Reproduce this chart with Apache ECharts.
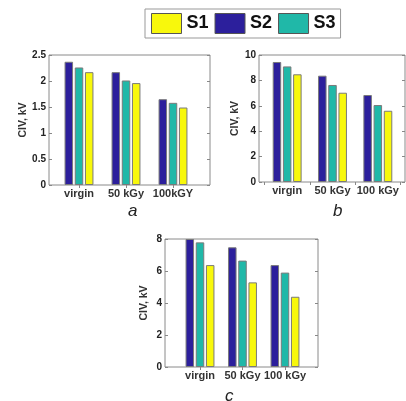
<!DOCTYPE html>
<html><head><meta charset="utf-8">
<script src="https://cdn.jsdelivr.net/npm/echarts@6/dist/echarts.min.js"></script>
<style>html,body{margin:0;padding:0;background:#fff}#c{width:406px;height:401px}</style>
</head><body><div id="c"></div>
<script>
// Data
const catsA = ['virgin', '50 kGy', '100kGY'];
const catsB = ['virgin', '50 kGy', '100 kGy'];
const catsC = ['virgin', '50 kGy', '100 kGy'];
const a_S1 = [2.17, 1.96, 1.49];
const a_S2 = [2.37, 2.17, 1.65];
const a_S3 = [2.26, 2.01, 1.58];
const b_S1 = [8.48, 7.03, 5.61];
const b_S2 = [9.45, 8.37, 6.85];
const b_S3 = [9.10, 7.64, 6.06];
const c_S1 = [6.37, 5.29, 4.39];
const c_S2 = [8.00, 7.48, 6.37];
const c_S3 = [7.79, 6.65, 5.90];
const yA = {min: 0, max: 2.5, interval: 0.5};
const yB = {min: 0, max: 10, interval: 2};
const yC = {min: 0, max: 8, interval: 2};

const COL = {S1: '#f8f80c', S2: '#2c1f9c', S3: '#20b8a8'};
const FONT = 'Liberation Sans, Arial, sans-serif';

const panels = [
  {box: {left: 49, top: 55, width: 161, height: 130}, bar: {left: 55.5, width: 141}, cats: catsA, y: yA, data: {S1: a_S1, S2: a_S2, S3: a_S3}, nameGap: 16, align: true},
  {box: {left: 259, top: 55, width: 146, height: 127}, bar: {left: 264.5, width: 136}, cats: catsB, y: yB, data: {S1: b_S1, S2: b_S2, S3: b_S3}, nameGap: 14, align: false},
  {box: {left: 165, top: 239, width: 153, height: 128}, bar: {left: 178.75, width: 127.5}, cats: catsC, y: yC, data: {S1: c_S1, S2: c_S2, S3: c_S3}, nameGap: 15, align: true}
];

const grid = [], xAxis = [], yAxis = [], series = [];
panels.forEach((p, i) => {
  const gBox = grid.length;
  grid.push({left: p.box.left, top: p.box.top, width: p.box.width, height: p.box.height, show: true, borderColor: '#8a8a8a', borderWidth: 1, backgroundColor: 'transparent'});
  const gBar = grid.length;
  grid.push({left: p.bar.left, top: p.box.top, width: p.bar.width, height: p.box.height});
  xAxis.push({gridIndex: gBox, type: 'value', show: false});
  yAxis.push({gridIndex: gBox, type: 'value', show: false});
  const xi = xAxis.length;
  xAxis.push({gridIndex: gBar, type: 'category', data: p.cats, position: 'bottom',
    axisLine: {show: false}, axisTick: {show: false},
    axisLabel: {interval: 0, margin: 3, fontFamily: FONT, fontWeight: 'bold', fontSize: 11, color: '#333'}});
  xAxis.push({gridIndex: gBar, type: 'category', data: p.cats, position: 'top',
    axisLine: {show: false}, axisLabel: {show: false},
    axisTick: {show: true, interval: 0, inside: true, length: 3, alignWithLabel: p.align, lineStyle: {color: '#888'}}});
  const yi = yAxis.length;
  const offL = p.bar.left - p.box.left;
  const offR = (p.box.left + p.box.width) - (p.bar.left + p.bar.width);
  yAxis.push({gridIndex: gBar, type: 'value', position: 'left', offset: offL,
    min: p.y.min, max: p.y.max, interval: p.y.interval,
    name: 'CIV, kV', nameLocation: 'middle', nameGap: p.nameGap,
    nameTextStyle: {fontFamily: FONT, fontWeight: 'bold', fontSize: 10.5, color: '#333'},
    axisLine: {show: false}, splitLine: {show: false},
    axisTick: {show: true, inside: true, length: 3, lineStyle: {color: '#888'}},
    axisLabel: {margin: 3, fontFamily: FONT, fontWeight: 'bold', fontSize: 10, color: '#222'}});
  yAxis.push({gridIndex: gBar, type: 'value', position: 'right', offset: offR,
    min: p.y.min, max: p.y.max, interval: p.y.interval,
    axisLine: {show: false}, splitLine: {show: false}, axisLabel: {show: false},
    axisTick: {show: true, inside: true, length: 3, lineStyle: {color: '#888'}}});
  ['S2', 'S3', 'S1'].forEach(s => {
    series.push({name: s, type: 'bar', xAxisIndex: xi, yAxisIndex: yi, data: p.data[s],
      barWidth: 8.5, barGap: '20%',
      itemStyle: {color: COL[s], borderColor: '#7a7a7a', borderWidth: 1}});
  });
});

const chart = echarts.init(document.getElementById('c'), null, {renderer: 'canvas'});
chart.setOption({
  animation: false,
  backgroundColor: '#fff',
  legend: {data: ['S1', 'S2', 'S3'], icon: 'rect', left: 145, top: 9, padding: [4, 5, 4, 6], itemGap: 6,
    itemWidth: 30, itemHeight: 20, borderColor: '#999', borderWidth: 1,
    textStyle: {fontFamily: FONT, fontWeight: 'bold', fontSize: 18, color: '#111'},
    itemStyle: {borderColor: '#555', borderWidth: 1}},
  grid, xAxis, yAxis, series,
  graphic: [
    {type: 'text', left: 128, top: 203, style: {text: 'a', font: 'italic 17px ' + FONT, fill: '#222'}},
    {type: 'text', left: 333, top: 203, style: {text: 'b', font: 'italic 17px ' + FONT, fill: '#222'}},
    {type: 'text', left: 225, top: 388, style: {text: 'c', font: 'italic 17px ' + FONT, fill: '#222'}}
  ]
});
</script></body></html>
